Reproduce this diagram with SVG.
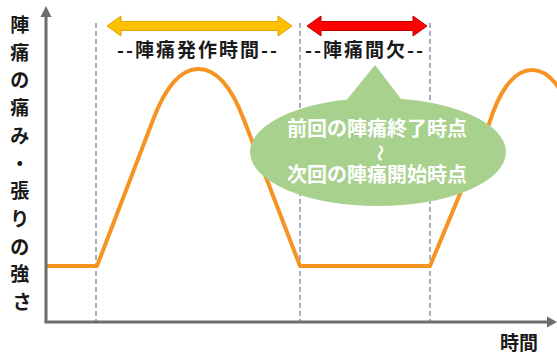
<svg xmlns="http://www.w3.org/2000/svg" width="557" height="356" viewBox="0 0 557 356">
<style>
.lbl{font-family:"Noto Sans CJK JP","Noto Sans CJK SC",sans-serif;font-weight:bold;fill:#1a1a1a;}
.bub{font-family:"Noto Sans CJK JP","Noto Sans CJK SC",sans-serif;font-weight:bold;fill:#ffffff;}
.dash{stroke:#8a94ad;stroke-width:1.5;stroke-dasharray:5 3;fill:none;}
.axis{stroke:#6d6d6d;stroke-width:3;fill:none;}
.curve{stroke:#F59323;stroke-width:4;fill:none;stroke-linejoin:round;}
</style>
<rect width="557" height="356" fill="#ffffff"/>
<g id="connectors">
  <line class="dash" x1="96" y1="23" x2="96" y2="321"/>
  <line class="dash" x1="300" y1="23" x2="300" y2="321"/>
  <line class="dash" x1="430" y1="23" x2="430" y2="321"/>
  <path class="curve" d="M46,266 H97 L153,120 C162,96 177,69 198.5,69 C220,69 235,96 244,120 L300,266 H430 L489,124 C497,98 511,70 532,70 C553,70 567,98 575,124"/>
  <line class="axis" x1="46" y1="322" x2="46" y2="15"/>
  <polygon points="46,6 40.5,17 51.5,17" fill="#6d6d6d"/>
  <line class="axis" x1="44.5" y1="322" x2="548" y2="322"/>
  <polygon points="557,322 547,316.5 547,327.5" fill="#6d6d6d"/>
</g>
<g id="arrow-hossa">
  <polygon points="107,26 121,16 121,21.5 278,21.5 278,16 292,26 278,36 278,30.5 121,30.5 121,36" fill="#FFC000" stroke="#E3A200" stroke-width="1"/>
  <text class="lbl" x="198" y="57" font-size="19" letter-spacing="2" text-anchor="middle">--陣痛発作時間--</text>
</g>
<g id="arrow-kanketsu">
  <polygon points="307,26 321,16 321,21.5 413,21.5 413,16 427,26 413,36 413,30.5 321,30.5 321,36" fill="#FF0000" stroke="#C00000" stroke-width="1"/>
  <text class="lbl" x="365" y="57" font-size="19" letter-spacing="2" text-anchor="middle">--陣痛間欠--</text>
</g>
<g id="callout">
  <ellipse cx="378" cy="152" rx="128" ry="54" fill="#A9D18E"/>
  <polygon points="375,65 332,118 408,108" fill="#A9D18E"/>
  <text class="bub" x="377" y="136" font-size="20" text-anchor="middle">前回の陣痛終了時点</text>
  <text class="bub" font-size="17" font-weight="normal" text-anchor="middle" transform="translate(380,153) rotate(90)" y="6">〜</text>
  <text class="bub" x="377" y="182" font-size="20" text-anchor="middle">次回の陣痛開始時点</text>
</g>
<g id="y-label">
  <text class="lbl" font-size="19" text-anchor="middle">
    <tspan x="22" y="32">陣</tspan>
    <tspan x="22" y="59.7">痛</tspan>
    <tspan x="22" y="87.4">の</tspan>
    <tspan x="22" y="115.1">痛</tspan>
    <tspan x="22" y="142.8">み</tspan>
    <tspan x="22" y="170.5">・</tspan>
    <tspan x="22" y="198.2">張</tspan>
    <tspan x="22" y="225.9">り</tspan>
    <tspan x="22" y="253.6">の</tspan>
    <tspan x="22" y="281.3">強</tspan>
    <tspan x="22" y="309">さ</tspan>
  </text>
</g>
<g id="x-label">
  <text class="lbl" x="519" y="350" font-size="19" text-anchor="middle">時間</text>
</g>
</svg>
